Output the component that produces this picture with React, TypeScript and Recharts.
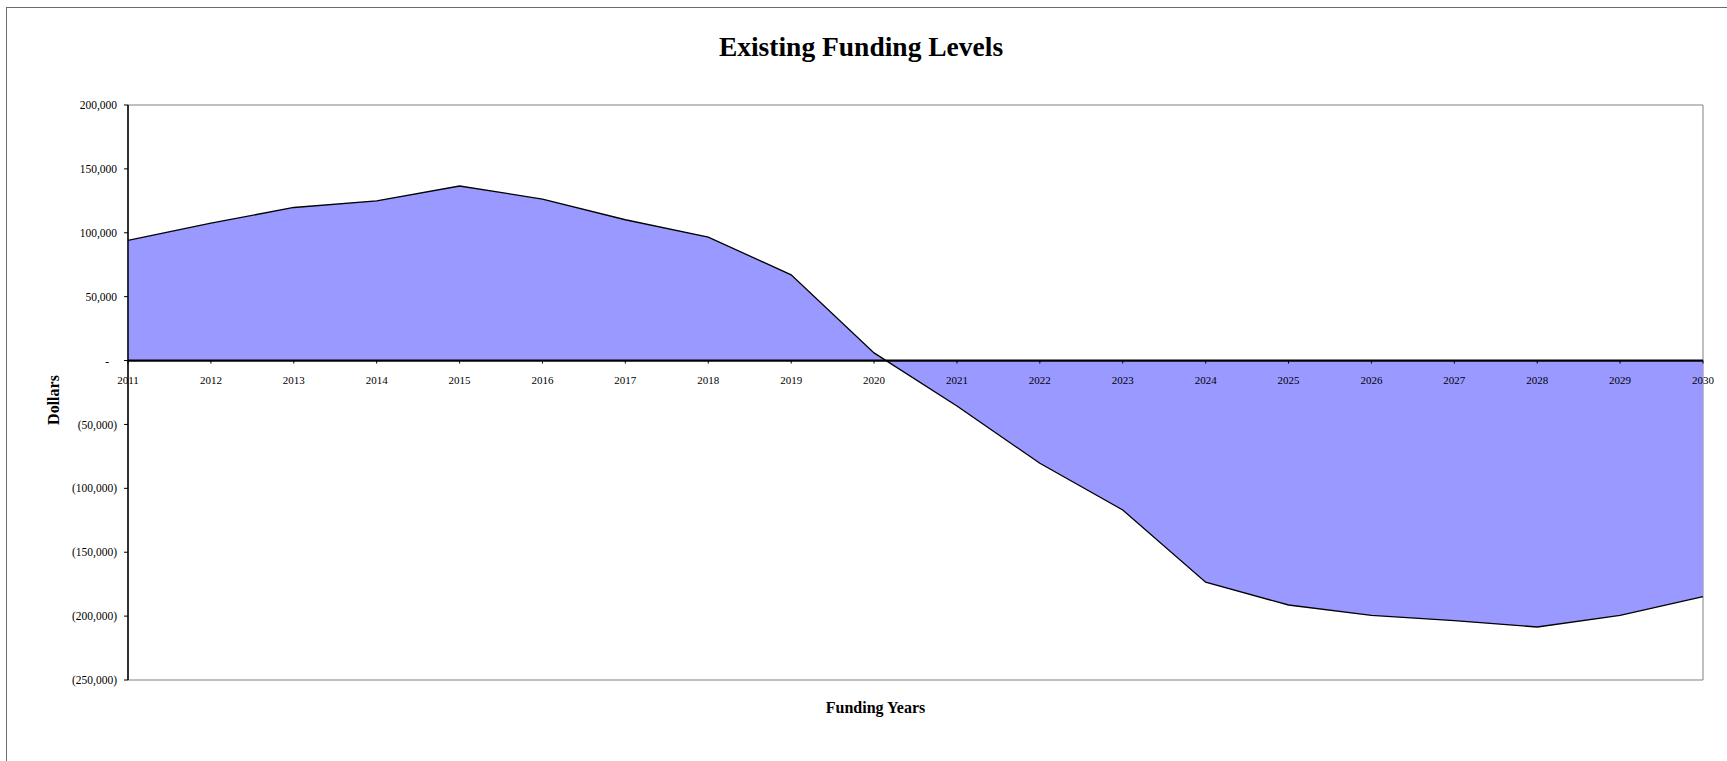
import React from 'react';
import { AreaChart, Area, XAxis, YAxis, ReferenceLine, ReferenceArea } from 'recharts';

const years = ['2011', '2012', '2013', '2014', '2015', '2016', '2017', '2018', '2019', '2020',
  '2021', '2022', '2023', '2024', '2025', '2026', '2027', '2028', '2029', '2030'];
const funding = [94000, 107500, 119800, 125000, 136600, 126400, 110200, 96600, 67100, 6000,
  -35500, -80400, -116900, -173500, -191300, -199400, -203600, -208500, -199400, -184800];
const yTicks = [-250000, -200000, -150000, -100000, -50000, 0, 50000, 100000, 150000, 200000];

const data = years.map((year, i) => ({ year, value: funding[i] }));

const W = 1727;
const H = 761;
const TOP = 105;
const BOTTOM = 680;
const Y_MIN = -250000;
const Y_MAX = 200000;
const zeroY = TOP + ((BOTTOM - TOP) * Y_MAX) / (Y_MAX - Y_MIN);
const serif = '"Liberation Serif", "Times New Roman", serif';

const fmt = (v: number) => {
  if (v === 0) return '-';
  const s = Math.abs(v).toLocaleString('en-US');
  return v < 0 ? `(${s})` : s;
};

const XTick = (props: any) => {
  const { x, payload } = props;
  return (
    <g>
      <line x1={x} x2={x} y1={zeroY} y2={zeroY + 3} stroke="#000" strokeWidth={1} />
      <text x={x} y={zeroY + 23.5} textAnchor="middle" fontSize={11} fontFamily={serif} fill="#000">
        {payload.value}
      </text>
    </g>
  );
};

const YTick = (props: any) => {
  const { x, y, payload } = props;
  const v = payload.value;
  return (
    <text x={v === 0 ? x - 8 : x} y={y} dy="0.355em" textAnchor="end" fontSize={11.5} fontFamily={serif} fill="#000">
      {fmt(v)}
    </text>
  );
};

export default function App() {
  return (
    <div style={{ position: 'fixed', left: 0, top: 0, width: W, height: H, overflow: 'hidden', background: '#fff' }}>
      <div style={{ position: 'absolute', left: 6, top: 7, width: W + 20, height: H + 20, borderLeft: '1px solid #6b6b6b', borderTop: '1px solid #6b6b6b' }} />
      <div style={{ position: 'absolute', left: 0, width: 1722, top: 31, textAlign: 'center', fontFamily: serif, fontWeight: 'bold', fontSize: 27.5 }}>
        Existing Funding Levels
      </div>
      <div style={{ position: 'absolute', left: 0, width: 1751, top: 699, textAlign: 'center', fontFamily: serif, fontWeight: 'bold', fontSize: 16 }}>
        Funding Years
      </div>
      <div style={{ position: 'absolute', left: 54, top: 400, transform: 'translate(-50%, -50%) rotate(-90deg)', fontFamily: serif, fontWeight: 'bold', fontSize: 16, whiteSpace: 'nowrap' }}>
        Dollars
      </div>
      <div style={{ position: 'absolute', left: 0, top: 0 }}>
        <AreaChart width={W} height={H} data={data} margin={{ top: TOP, right: 24, bottom: H - BOTTOM - 1, left: 0 }}>
          <ReferenceArea x1="2011" x2="2030" y1={Y_MIN} y2={Y_MAX} fill="none" stroke="#808080" strokeWidth={1} ifOverflow="visible" />
          <XAxis dataKey="year" height={1} axisLine={false} tickLine={false} tick={<XTick />} interval={0} />
          <YAxis width={128} domain={[Y_MIN, Y_MAX]} ticks={yTicks} type="number" allowDataOverflow
            axisLine={{ stroke: '#000', strokeWidth: 1.5 }} tickLine={{ stroke: '#000' }} tickSize={4} tickMargin={7}
            tick={<YTick />} interval={0} />
          <Area type="linear" dataKey="value" baseValue={0} fill="#9999FF" fillOpacity={1} stroke="#000" strokeWidth={1.3}
            isAnimationActive={false} dot={false} activeDot={false} />
          <ReferenceLine y={0} stroke="#000" strokeWidth={2.2} />
        </AreaChart>
      </div>
    </div>
  );
}
